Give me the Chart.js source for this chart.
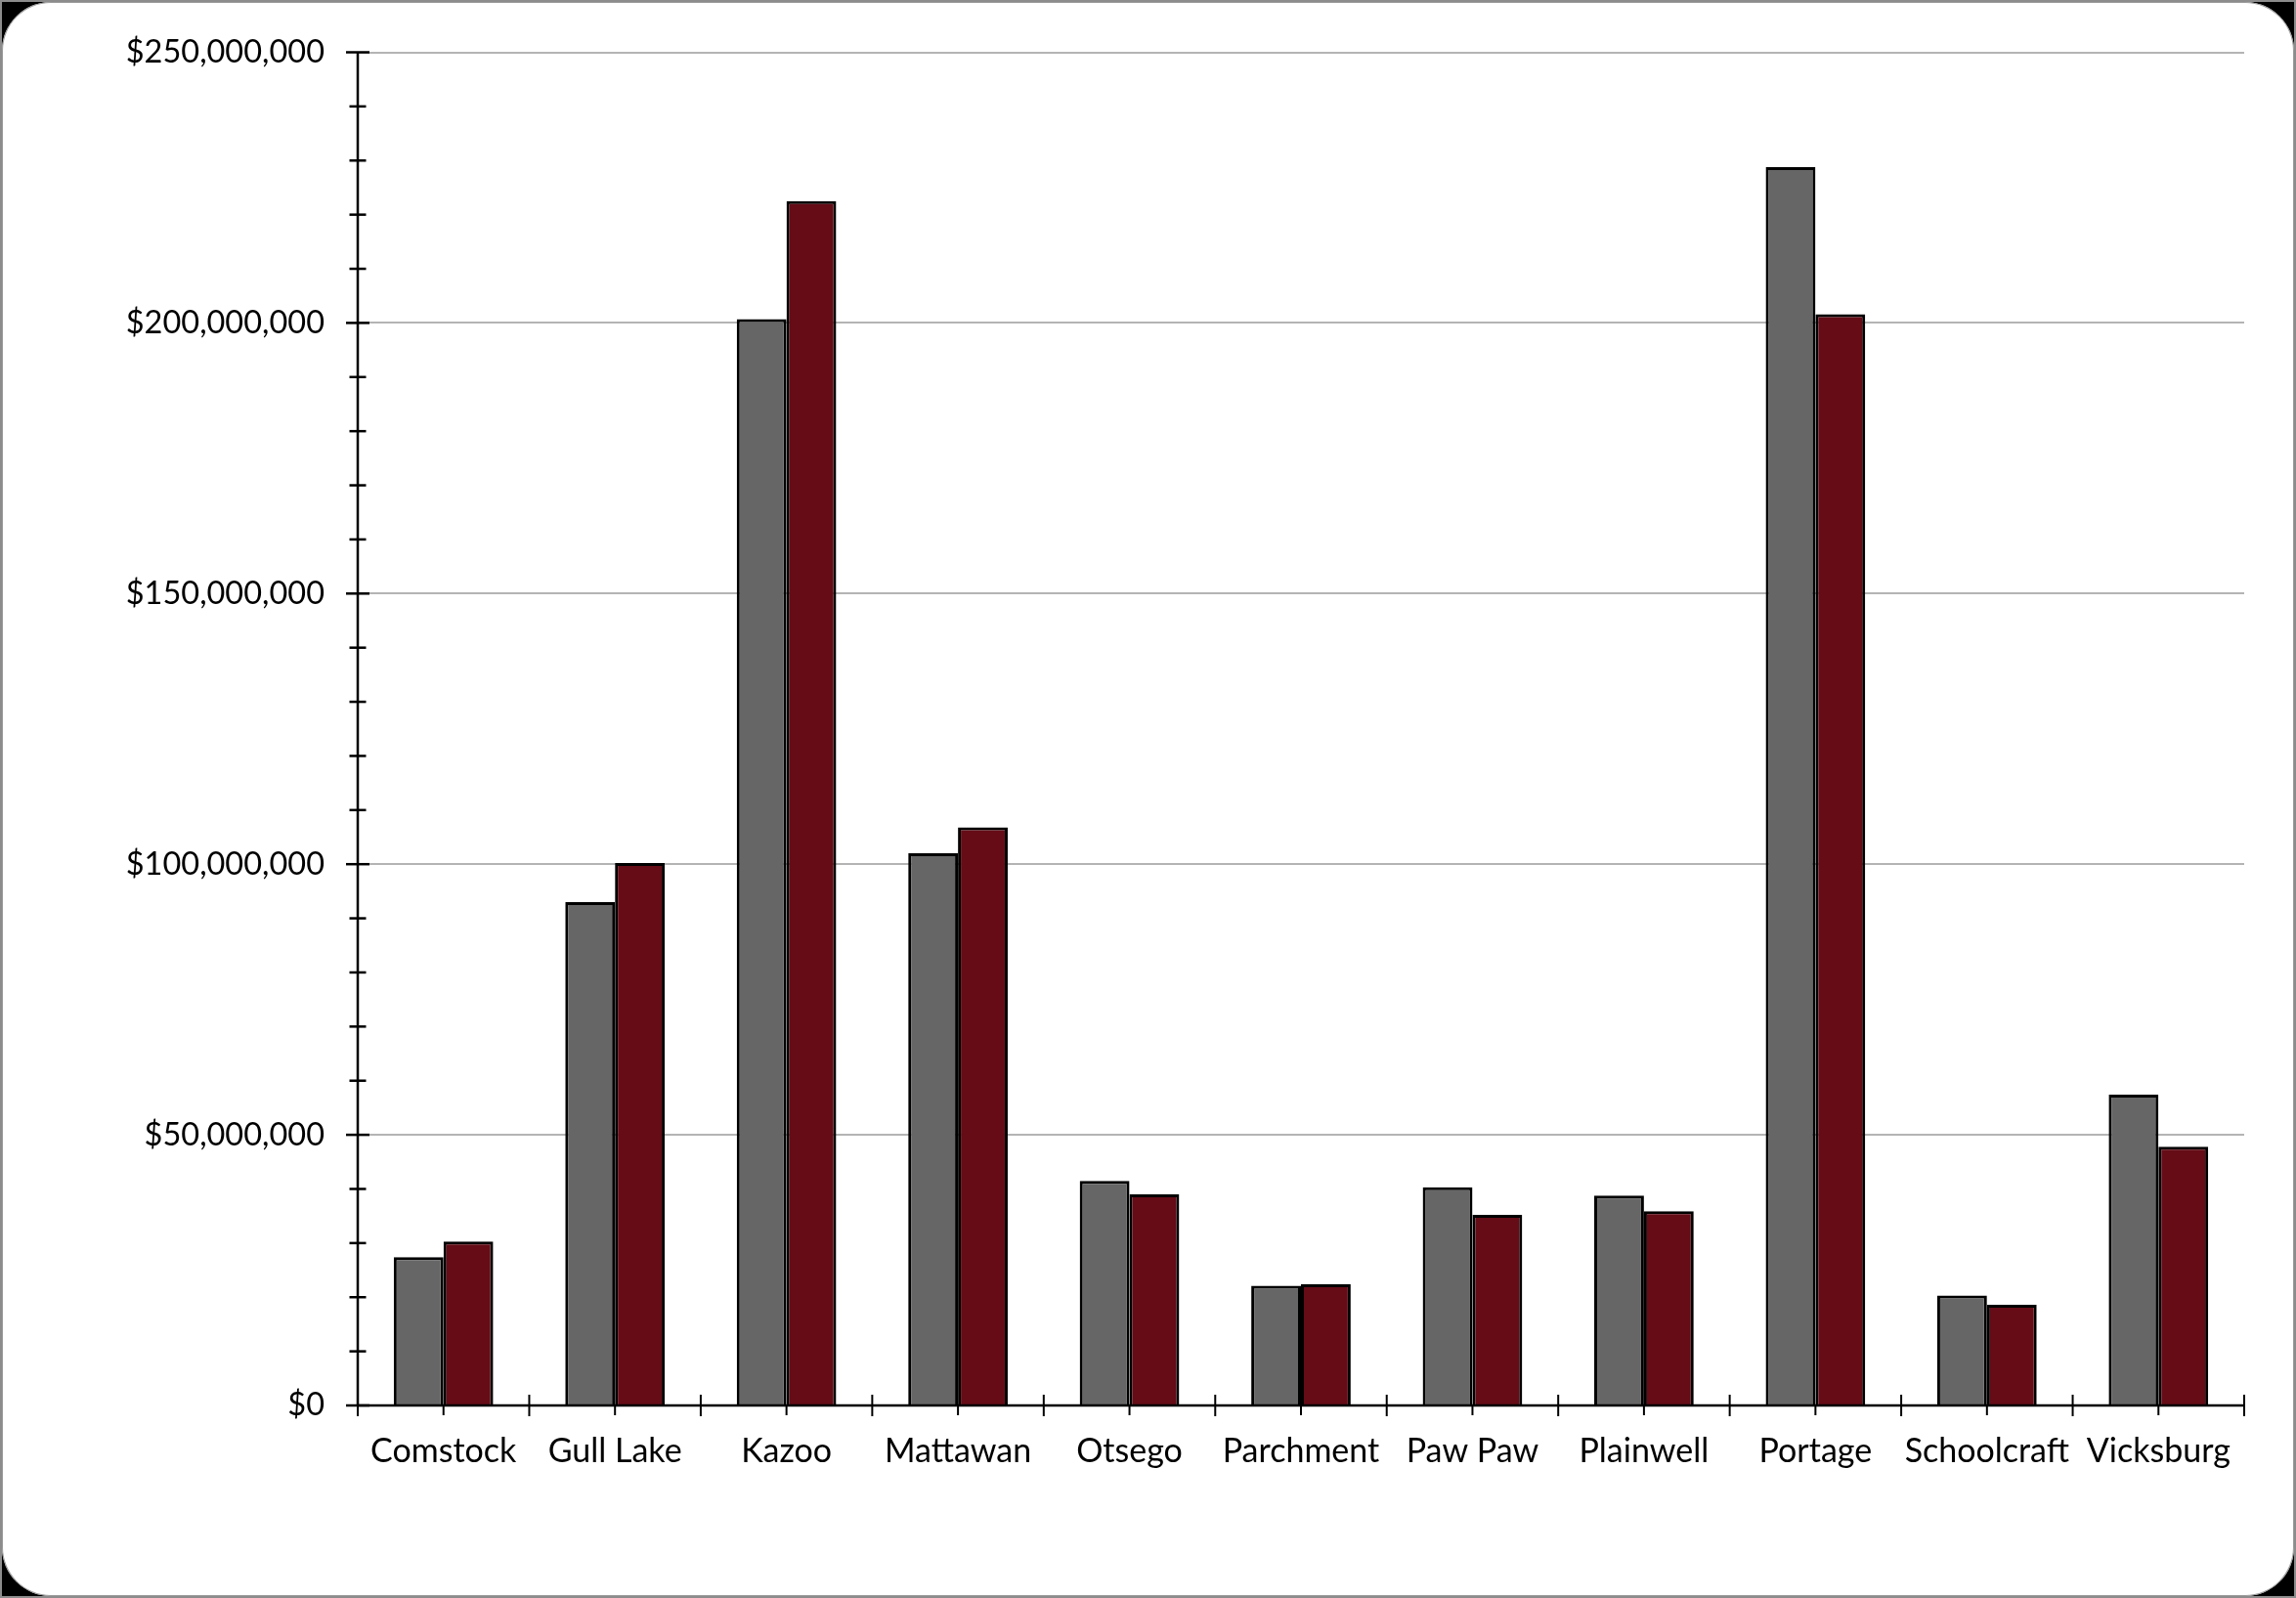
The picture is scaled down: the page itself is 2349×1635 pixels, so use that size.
<!DOCTYPE html>
<html>
<head>
<meta charset="utf-8">
<script src="https://cdn.jsdelivr.net/npm/chart.js@4.4.1/dist/chart.umd.min.js"></script>
<style>
  html, body { margin: 0; padding: 0; background: #000; }
  #outer { position: absolute; left: 0; top: 0; width: 2349px; height: 1635px; box-sizing: border-box; border: 2px solid #8c8c8c; background: #000; }
  #inner { position: absolute; left: 0; top: 0; right: 0; bottom: 0; background: #fff; border-radius: 50px; box-shadow: 0 0 0 1px #9a9a9a inset; }
  #wrap { position: absolute; left: 0; top: 0; width: 2349px; height: 1635px; }
</style>
</head>
<body>
<div id="outer"><div id="inner"></div></div>
<div id="wrap"><canvas id="c" width="2349" height="1635"></canvas></div>
<script>
const categories = ['Comstock', 'Gull Lake', 'Kazoo', 'Mattawan', 'Otsego', 'Parchment', 'Paw Paw', 'Plainwell', 'Portage', 'Schoolcraft', 'Vicksburg'];
const seriesGray = [27400000, 93000000, 200700000, 102000000, 41500000, 22100000, 40300000, 38800000, 228800000, 20300000, 57400000];
const seriesRed  = [30300000, 100200000, 222500000, 106800000, 39000000, 22400000, 35200000, 35900000, 201600000, 18600000, 47800000];
const yMin = 0;
const yMax = 250000000;
const yMajorStep = 50000000;
const yMinorStep = 10000000;

const FONT = 'Lato, "Open Sans", sans-serif';

const axisPlugin = {
  id: 'excelAxes',
  afterDraw(chart) {
    const ctx = chart.ctx;
    const xs = chart.scales.x;
    const ys = chart.scales.y;
    const area = chart.chartArea;
    ctx.save();
    ctx.strokeStyle = '#000';
    ctx.lineWidth = 2.5;
    ctx.lineCap = 'butt';
    ctx.beginPath();
    ctx.moveTo(area.left, ys.getPixelForValue(yMax));
    ctx.lineTo(area.left, ys.getPixelForValue(yMin));
    ctx.stroke();
    for (let v = yMin; v <= yMax; v += yMinorStep) {
      const py = ys.getPixelForValue(v);
      const major = (v % yMajorStep) === 0;
      const half = major ? 12 : 8.5;
      ctx.beginPath();
      ctx.moveTo(area.left - half, py);
      ctx.lineTo(area.left + half, py);
      ctx.stroke();
    }
    const y0 = ys.getPixelForValue(yMin);
    ctx.beginPath();
    ctx.moveTo(area.left, y0);
    ctx.lineTo(area.right, y0);
    ctx.stroke();
    const step = xs.getPixelForValue(1) - xs.getPixelForValue(0);
    ctx.lineWidth = 2;
    for (let i = 0; i <= categories.length; i++) {
      const px = xs.getPixelForValue(0) - step / 2 + i * step;
      ctx.beginPath();
      ctx.moveTo(px, y0 - 11);
      ctx.lineTo(px, y0 + 11);
      ctx.stroke();
    }
    for (let i = 0; i < categories.length; i++) {
      const px = xs.getPixelForValue(i);
      ctx.beginPath();
      ctx.moveTo(px, y0);
      ctx.lineTo(px, y0 + 10);
      ctx.stroke();
    }
    ctx.restore();
  }
};

new Chart(document.getElementById('c'), {
  type: 'bar',
  data: {
    labels: categories,
    datasets: [
      { label: 'Series 1', data: seriesGray, backgroundColor: '#666666', borderColor: '#000000', borderWidth: 3, categoryPercentage: 0.58, barPercentage: 1.0 },
      { label: 'Series 2', data: seriesRed, backgroundColor: '#650c17', borderColor: '#000000', borderWidth: 3, categoryPercentage: 0.58, barPercentage: 1.0 }
    ]
  },
  options: {
    responsive: false,
    animation: false,
    devicePixelRatio: 1,
    layout: { padding: { left: 0, right: 53, top: 51, bottom: 0 } },
    plugins: { legend: { display: false }, tooltip: { enabled: false } },
    scales: {
      x: {
        type: 'category',
        offset: true,
        grid: { display: true, drawOnChartArea: false, drawTicks: false, color: 'rgba(0,0,0,0)' },
        border: { display: false },
        ticks: { color: '#000', font: { family: FONT, size: 34 }, padding: 27, maxRotation: 0, autoSkip: false },
        afterFit: (s) => { s.height = 1635 - 1438; }
      },
      y: {
        min: yMin,
        max: yMax,
        grid: { color: '#b4b4b4', lineWidth: 2, drawTicks: false },
        border: { display: false },
        ticks: {
          stepSize: yMajorStep,
          color: '#000',
          padding: 34,
          font: { family: FONT, size: 32.5 },
          callback: (v) => '$' + Number(v).toLocaleString('en-US')
        },
        afterFit: (s) => { s.width = 366; }
      }
    }
  },
  plugins: [axisPlugin]
});
</script>
</body>
</html>
